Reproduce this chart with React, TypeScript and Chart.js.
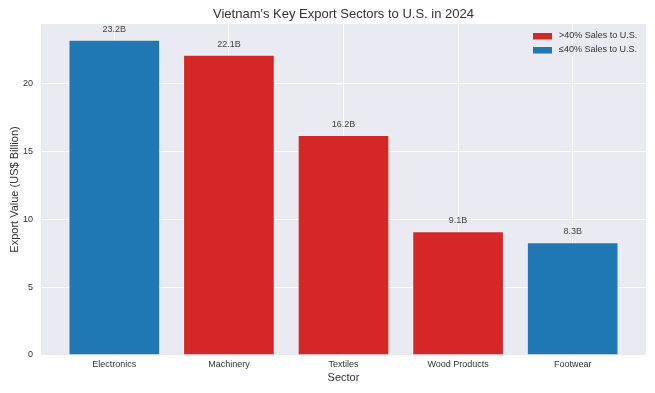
import React, { useEffect, useRef } from "react";
import { Chart, registerables } from "chart.js";

Chart.register(...registerables);

const categories = ["Electronics", "Machinery", "Textiles", "Wood Products", "Footwear"];
const values = [23.2, 22.1, 16.2, 9.1, 8.3];
const highShare = [false, true, true, true, false];
const yTicks = [0, 5, 10, 15, 20];
const legendLabels = [">40% Sales to U.S.", "≤40% Sales to U.S."];

const RED = "#d62728";
const BLUE = "#1f77b4";
const FONT = "'Liberation Sans', Arial, sans-serif";
const TEXT = "#333333";

export default function App() {
  const ref = useRef<HTMLCanvasElement>(null);

  useEffect(() => {
    document.body.style.margin = "0";
    const canvas = ref.current!;
    const decor = {
      id: "decor",
      beforeDraw(chart: any) {
        const { ctx, chartArea: a } = chart;
        ctx.save();
        ctx.fillStyle = "#ffffff";
        ctx.fillRect(0, 0, chart.width, chart.height);
        ctx.fillStyle = "#eaeaf2";
        ctx.fillRect(a.left, a.top, a.right - a.left, a.bottom - a.top);
        ctx.restore();
      },
      afterDraw(chart: any) {
        const { ctx, chartArea: a } = chart;
        const xs = chart.scales.x;
        const ys = chart.scales.y;
        ctx.save();
        // title
        ctx.fillStyle = TEXT;
        ctx.font = `13px ${FONT}`;
        ctx.textAlign = "center";
        ctx.textBaseline = "middle";
        ctx.fillText("Vietnam's Key Export Sectors to U.S. in 2024", (a.left + a.right) / 2, 14);
        // axis titles
        ctx.font = `11px ${FONT}`;
        ctx.fillText("Sector", (a.left + a.right) / 2, 378);
        ctx.save();
        ctx.translate(15, (a.top + a.bottom) / 2);
        ctx.rotate(-Math.PI / 2);
        ctx.fillText("Export Value (US$ Billion)", 0, 0);
        ctx.restore();
        // value labels
        ctx.font = `9px ${FONT}`;
        ctx.fillStyle = "#444444";
        ctx.textBaseline = "alphabetic";
        values.forEach((v, i) => {
          ctx.fillText(v.toFixed(1) + "B", xs.getPixelForValue(i), ys.getPixelForValue(v) - 8);
        });
        // legend
        ctx.textAlign = "left";
        ctx.textBaseline = "middle";
        const colors = [RED, BLUE];
        legendLabels.forEach((t, i) => {
          const y = 36 + i * 14;
          ctx.fillStyle = colors[i];
          ctx.fillRect(533, y - 3, 19, 6.5);
          ctx.fillStyle = TEXT;
          ctx.fillText(t, 559, y);
        });
        ctx.restore();
      },
    };

    const chart = new Chart(canvas, {
      type: "bar",
      data: {
        datasets: [
          {
            data: values.map((v, i) => ({ x: i, y: v })),
            backgroundColor: highShare.map((h) => (h ? RED : BLUE)),
            borderColor: "rgba(255,255,255,0.35)",
            borderWidth: 1,
            categoryPercentage: 1,
            barPercentage: 0.8,
          } as any,
        ],
      },
      options: {
        animation: false,
        responsive: false,
        maintainAspectRatio: false,
        layout: { padding: { top: 24, right: 9, left: 0, bottom: 0 } },
        plugins: { legend: { display: false }, tooltip: { enabled: false }, title: { display: false } },
        scales: {
          x: {
            type: "linear",
            min: -0.64,
            max: 4.64,
            offset: false,
            afterBuildTicks: (s: any) => {
              s.ticks = categories.map((_, i) => ({ value: i }));
            },
            afterFit: (s: any) => {
              s.height = 38;
            },
            ticks: {
              callback: (v: any) => categories[v as number] ?? "",
              color: TEXT,
              font: { family: FONT, size: 9 },
              padding: 4,
              maxRotation: 0,
              autoSkip: false,
            },
            grid: { color: "#ffffff", lineWidth: 1, drawTicks: false, offset: false },
            border: { display: false },
          },
          y: {
            min: 0,
            max: 24.36,
            afterBuildTicks: (s: any) => {
              s.ticks = yTicks.map((v) => ({ value: v }));
            },
            afterFit: (s: any) => {
              s.width = 41;
            },
            ticks: {
              color: TEXT,
              font: { family: FONT, size: 9 },
              padding: 8,
            },
            grid: { color: "#ffffff", lineWidth: 1, drawTicks: false },
            border: { display: false },
          },
        },
      },
      plugins: [decor],
    } as any);
    return () => chart.destroy();
  }, []);

  return (
    <div style={{ position: "fixed", left: 0, top: 0, width: 655, height: 393 }}>
      <canvas ref={ref} width={655} height={393} style={{ width: 655, height: 393 }} />
    </div>
  );
}
